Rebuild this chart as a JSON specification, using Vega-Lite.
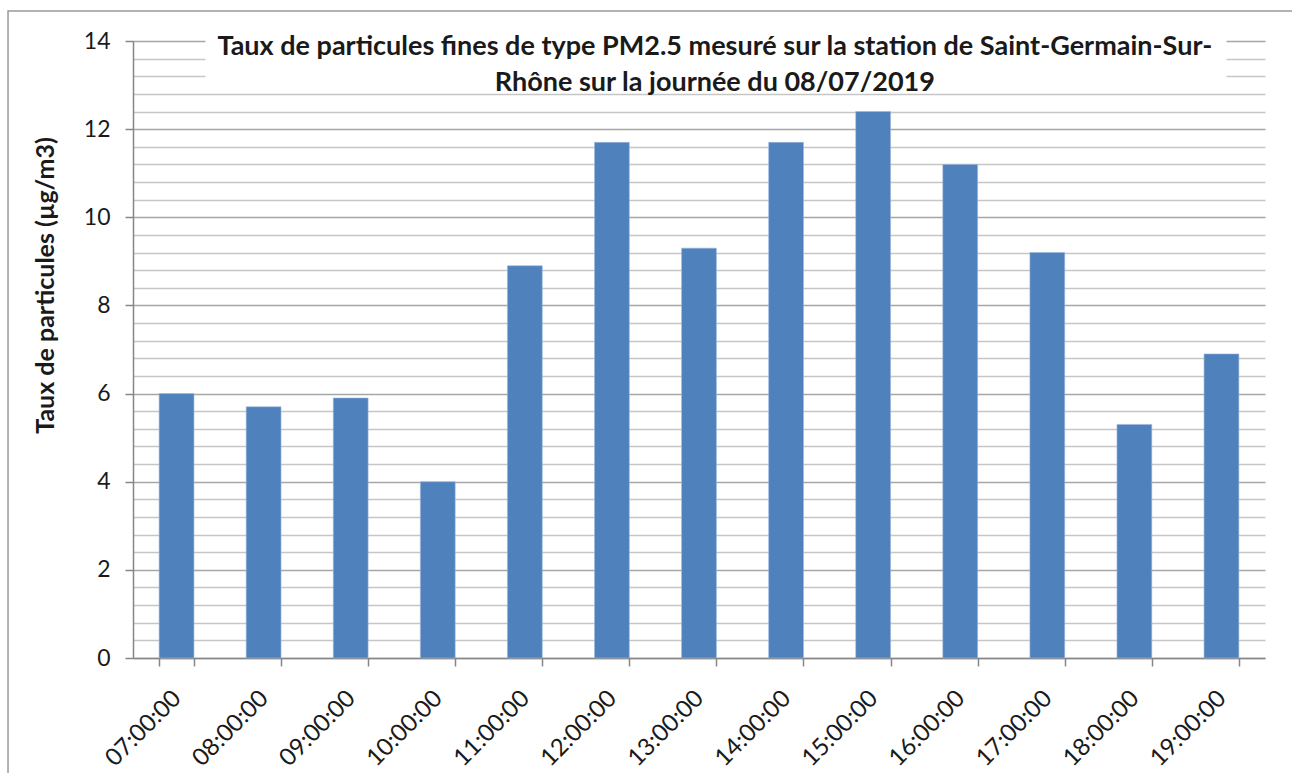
{
  "$schema": "https://vega.github.io/schema/vega-lite/v6.json",
  "autosize": {"type": "none"},
  "padding": {"left": 133, "top": 41, "right": 27, "bottom": 115},
  "width": 1132,
  "height": 617,
  "background": "white",
  "config": {
    "font": "Lato",
    "view": {"stroke": null}
  },
  "resolve": {"scale": {"x": "independent"}, "axis": {"x": "independent", "y": "independent"}},
  "layer": [
    {
      "data": {"values": [
        {"heure": "07:00:00", "taux": 6.0},
        {"heure": "08:00:00", "taux": 5.7},
        {"heure": "09:00:00", "taux": 5.9},
        {"heure": "10:00:00", "taux": 4.0},
        {"heure": "11:00:00", "taux": 8.9},
        {"heure": "12:00:00", "taux": 11.7},
        {"heure": "13:00:00", "taux": 9.3},
        {"heure": "14:00:00", "taux": 11.7},
        {"heure": "15:00:00", "taux": 12.4},
        {"heure": "16:00:00", "taux": 11.2},
        {"heure": "17:00:00", "taux": 9.2},
        {"heure": "18:00:00", "taux": 5.3},
        {"heure": "19:00:00", "taux": 6.9}
      ]},
      "mark": {"type": "bar", "color": "#4F81BD", "stroke": "#9DB9DC", "strokeWidth": 0.6},
      "encoding": {
        "x": {
          "field": "heure", "type": "ordinal", "sort": null,
          "scale": {"paddingInner": 0.6, "paddingOuter": 0.3},
          "axis": {
            "title": null,
            "labelAngle": -45,
            "labelFont": "Lato",
            "labelFontSize": 24,
            "labelColor": "#1a1a1a",
            "labelPadding": 20,
            "labelOffset": -8,
            "domainColor": "#868686",
            "domainWidth": 1.5,
            "tickColor": "#868686",
            "tickWidth": 1.5,
            "tickSize": 8,
            "tickBand": "extent",
            "grid": false
          }
        },
        "y": {
          "field": "taux", "type": "quantitative",
          "scale": {"domain": [0, 14], "nice": false, "zero": true},
          "axis": {
            "title": "Taux de particules (µg/m3)",
            "titleFont": "Lato",
            "titleFontSize": 25,
            "titleFontWeight": "bold",
            "titleColor": "#1a1a1a",
            "titleX": -88,
            "titleY": 244,
            "titleAlign": "center",
            "titleBaseline": "middle",
            "values": [0,0.4,0.8,1.2,1.6,2,2.4,2.8,3.2,3.6,4,4.4,4.8,5.2,5.6,6,6.4,6.8,7.2,7.6,8,8.4,8.8,9.2,9.6,10,10.4,10.8,11.2,11.6,12,12.4,12.8,13.2,13.6,14],
            "labelExpr": "abs(datum.value/2 - round(datum.value/2)) < 0.001 ? format(datum.value, 'd') : ''",
            "labelOverlap": false,
            "labelFont": "Lato",
            "labelFontSize": 23,
            "labelColor": "#1a1a1a",
            "labelPadding": 15,
            "grid": true,
            "gridColor": {"condition": {"test": "abs(datum.value/2 - round(datum.value/2)) < 0.001", "value": "#A6A6A6"}, "value": "#C6C6C6"},
            "gridWidth": 1.5,
            "domainColor": "#868686",
            "domainWidth": 1.5,
            "tickColor": "#868686",
            "tickWidth": 1.5,
            "tickSize": 8,
            "tickOpacity": {"condition": {"test": "abs(datum.value/2 - round(datum.value/2)) < 0.001", "value": 1}, "value": 0}
          }
        }
      }
    },
    {
      "data": {"values": [{}]},
      "encoding": {},
      "layer": [
        {
          "mark": {"type": "rect", "fill": "white", "stroke": null},
          "encoding": {
            "x": {"datum": 0.064, "type": "quantitative", "scale": {"domain": [0, 1], "nice": false, "zero": false}, "axis": null},
            "x2": {"datum": 0.966},
            "y": {"datum": 14.25, "type": "quantitative", "axis": null},
            "y2": {"datum": 13.0}
          }
        },
        {
          "mark": {"type": "text", "font": "Lato", "fontSize": 27, "fontWeight": "bold", "color": "#1a1a1a", "align": "center", "baseline": "middle", "lineHeight": 36,
            "text": ["Taux de particules fines de type PM2.5 mesuré sur la station de Saint-Germain-Sur-", "Rhône sur la journée du 08/07/2019"]},
          "encoding": {
            "x": {"datum": 0.514, "type": "quantitative", "axis": null},
            "y": {"datum": 13.86, "type": "quantitative", "axis": null}
          }
        },
        {
          "mark": {"type": "rect", "fill": null, "stroke": "#9A9A9A", "strokeWidth": 1.5},
          "encoding": {
            "x": {"datum": -0.1104, "type": "quantitative", "axis": null},
            "x2": {"datum": 1.5},
            "y": {"datum": 14.68, "type": "quantitative", "axis": null},
            "y2": {"datum": -5}
          }
        }
      ]
    }
  ]
}
